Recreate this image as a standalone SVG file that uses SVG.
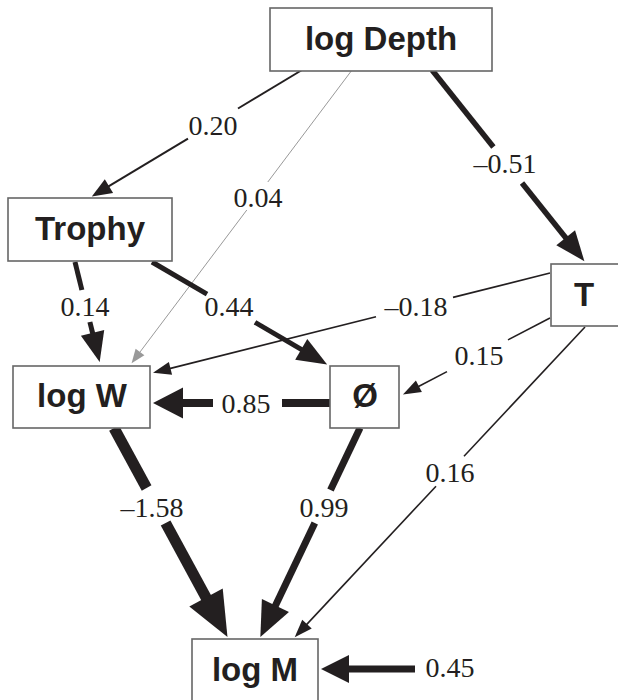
<svg xmlns="http://www.w3.org/2000/svg" width="618" height="700" viewBox="0 0 618 700">
<style>
.box{fill:#fff;stroke:#666;stroke-width:1.6}
.nt{font-family:"Liberation Sans",Arial,sans-serif;font-weight:bold;font-size:33px;fill:#231f20;text-anchor:middle}
.lb{font-family:"Liberation Serif","Times New Roman",serif;font-size:28px;fill:#231f20;text-anchor:middle}
.e{fill:none;stroke:#231f20;stroke-linecap:butt}
.g{fill:none;stroke:#999;stroke-width:1}
</style>
<defs>
<marker id="aS" markerUnits="userSpaceOnUse" orient="auto" refX="1" refY="0" markerWidth="60" markerHeight="60" viewBox="0 -30 60 60" overflow="visible"><path d="M0,-8 L20,0 L0,8 z" fill="#231f20"/></marker>
<marker id="aG" markerUnits="userSpaceOnUse" orient="auto" refX="1" refY="0" markerWidth="60" markerHeight="60" viewBox="0 -30 60 60" overflow="visible"><path d="M0,-5.5 L14,0 L0,5.5 z" fill="#999"/></marker>
<marker id="aT" markerUnits="userSpaceOnUse" orient="auto" refX="1" refY="0" markerWidth="60" markerHeight="60" viewBox="0 -30 60 60" overflow="visible"><path d="M0,-6.5 L18,0 L0,6.5 z" fill="#231f20"/></marker>
<marker id="aM" markerUnits="userSpaceOnUse" orient="auto" refX="1" refY="0" markerWidth="60" markerHeight="60" viewBox="0 -30 60 60" overflow="visible"><path d="M0,-12 L30,0 L0,12 z" fill="#231f20"/></marker>
<marker id="aW" markerUnits="userSpaceOnUse" orient="auto" refX="1" refY="0" markerWidth="60" markerHeight="60" viewBox="0 -30 60 60" overflow="visible"><path d="M0,-15.5 L30,0 L0,15.5 z" fill="#231f20"/></marker>
<marker id="aR" markerUnits="userSpaceOnUse" orient="auto" refX="1" refY="0" markerWidth="60" markerHeight="60" viewBox="0 -30 60 60" overflow="visible"><path d="M0,-14 L28,0 L0,14 z" fill="#231f20"/></marker>
<marker id="aL" markerUnits="userSpaceOnUse" orient="auto" refX="1" refY="0" markerWidth="60" markerHeight="60" viewBox="0 -30 60 60" overflow="visible"><path d="M0,-15 L35,0 L0,15 z" fill="#231f20"/></marker>
<marker id="aX" markerUnits="userSpaceOnUse" orient="auto" refX="1" refY="0" markerWidth="60" markerHeight="60" viewBox="0 -30 60 60" overflow="visible"><path d="M0,-19 L45,0 L0,19 z" fill="#231f20"/></marker>
</defs>

<g id="connectors">
<path class="e" stroke-width="2" d="M302,70 L238,108.5"/>
<path class="e" stroke-width="2" d="M188,138.6 L108.1,186.7" marker-end="url(#aS)"/>
<text class="lb" x="213" y="135">0.20</text>
<path class="g" d="M352,70 L267.8,182"/>
<path class="g" d="M246.8,210 L139.4,352.8" marker-end="url(#aG)"/>
<text class="lb" x="258" y="207">0.04</text>
<path class="e" stroke-width="5.5" d="M432,70 L493.4,147"/>
<path class="e" stroke-width="5.5" d="M522,183 L566.3,238.5" marker-end="url(#aM)"/>
<text class="lb" x="505" y="173">–0.51</text>
<path class="e" stroke-width="5" d="M75,262 L81.9,290"/>
<path class="e" stroke-width="5" d="M89.9,322 L92.8,333.9" marker-end="url(#aM)"/>
<text class="lb" x="85" y="316">0.14</text>
<path class="e" stroke-width="5" d="M152,262 L207,294.2"/>
<path class="e" stroke-width="5" d="M255,322.3 L302.1,349.8" marker-end="url(#aM)"/>
<text class="lb" x="229" y="316">0.44</text>
<path class="e" stroke-width="1.6" d="M550,273 L453,297.4"/>
<path class="e" stroke-width="1.6" d="M376,316.7 L169.5,368.6" marker-end="url(#aT)"/>
<text class="lb" x="416" y="316">–0.18</text>
<path class="e" stroke-width="1.6" d="M550,318 L508,339.9"/>
<path class="e" stroke-width="1.6" d="M447,371.6 L418,386.7" marker-end="url(#aT)"/>
<text class="lb" x="479" y="365">0.15</text>
<path class="e" stroke-width="8" d="M330,403 L282,403"/>
<path class="e" stroke-width="8" d="M213,403 L182,403" marker-end="url(#aW)"/>
<text class="lb" x="246" y="413">0.85</text>
<path class="e" stroke-width="1.6" d="M585,327 L464,456.3"/>
<path class="e" stroke-width="1.6" d="M436,486.2 L306.3,624.9" marker-end="url(#aT)"/>
<text class="lb" x="450" y="482">0.16</text>
<path class="e" stroke-width="11" d="M114,428 L146.6,488"/>
<path class="e" stroke-width="11" d="M165.6,523 L206.5,598.4" marker-end="url(#aX)"/>
<text class="lb" x="152" y="517">–1.58</text>
<path class="e" stroke-width="7" d="M360,428 L330.5,490"/>
<path class="e" stroke-width="7" d="M314.8,523 L275,606.4" marker-end="url(#aL)"/>
<text class="lb" x="324" y="517">0.99</text>
<path class="e" stroke-width="7" d="M415,669 L348,669" marker-end="url(#aR)"/>
<text class="lb" x="450" y="677">0.45</text>
</g>

<g id="node-logDepth">
<rect class="box" x="270" y="8" width="222" height="63"/>
<text class="nt" x="381" y="50">log Depth</text>
</g>
<g id="node-Trophy">
<rect class="box" x="8" y="198" width="164" height="63"/>
<text class="nt" x="90" y="240">Trophy</text>
</g>
<g id="node-T">
<rect class="box" x="551" y="264" width="72" height="62"/>
<text class="nt" x="584" y="306">T</text>
</g>
<g id="node-logW">
<rect class="box" x="13" y="366" width="137" height="62"/>
<text class="nt" x="82" y="407">log W</text>
</g>
<g id="node-O">
<rect class="box" x="330" y="366" width="69" height="62"/>
<text class="nt" x="365" y="407">Ø</text>
</g>
<g id="node-logM">
<rect class="box" x="192" y="639" width="126" height="70"/>
<text class="nt" x="255" y="681">log M</text>
</g>
</svg>
